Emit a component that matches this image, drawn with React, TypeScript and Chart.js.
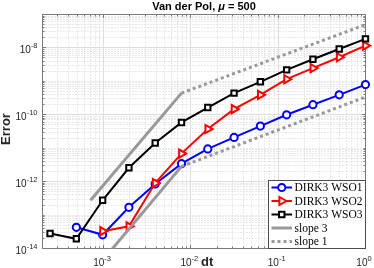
import React, { useEffect, useRef } from 'react';
import { Chart, registerables } from 'chart.js';

Chart.register(...registerables);

// ---- data ----
const DT = [
  0.000244140625, 0.00048828125, 0.0009765625, 0.001953125, 0.00390625, 0.0078125,
  0.015625, 0.03125, 0.0625, 0.125, 0.25, 0.5, 1,
];
const DT_WSO1 = DT.slice(1);
const DT_WSO2 = DT.slice(2);
const DT_WSO3 = DT;

const ERR_WSO1 = [4.3e-14, 2.57e-14, 1.71e-13, 8.5e-13, 3.44e-12, 9.5e-12, 2.1e-11, 4.6e-11, 1.0e-10, 2.0e-10, 3.95e-10, 8.0e-10];
const ERR_WSO2 = [3.3e-14, 4.6e-14, 9.1e-13, 6.9e-12, 3.74e-11, 1.48e-10, 3.95e-10, 1.16e-9, 2.48e-9, 5.27e-9, 1.17e-8];
const ERR_WSO3 = [2.8e-14, 1.95e-14, 2.77e-13, 2.6e-12, 1.43e-11, 5.9e-11, 1.65e-10, 4.45e-10, 9.7e-10, 2.2e-9, 4.6e-9, 9.3e-9, 1.86e-8];

const SLOPE3_UP_X = [7.1e-4, 7.8125e-3];
const SLOPE3_UP_Y = [2.77e-13, 4.45e-10];
const SLOPE3_LO_X = [1.2e-3, 7.8125e-3];
const SLOPE3_LO_Y = [8.4e-15, 2.86e-12];
const SLOPE1_UP_X = [7.8125e-3, 1];
const SLOPE1_UP_Y = [4.45e-10, 5.0e-8];
const SLOPE1_LO_X = [7.8125e-3, 1];
const SLOPE1_LO_Y = [2.86e-12, 3.4e-10];

const X_MIN = 2e-4;
const X_MAX = 1;
const Y_MIN = 1e-14;
const Y_MAX = 1e-7;

const X_TICKS = [1e-3, 1e-2, 1e-1, 1];
const X_TICK_EXP = ['-3', '-2', '-1', '0'];
const Y_TICKS = [1e-14, 1e-12, 1e-10, 1e-8];
const Y_TICK_EXP = ['-14', '-12', '-10', '-8'];

const TITLE_A = 'Van der Pol, ';
const TITLE_MU = 'μ';
const TITLE_B = ' = 500';
const X_LABEL = 'dt';
const Y_LABEL = 'Error';

const LEGEND_LABELS = ['DIRK3 WSO1', 'DIRK3 WSO2', 'DIRK3 WSO3', 'slope 3', 'slope 1'];

// ---- styles ----
const BLUE = '#0000ff';
const RED = '#ff0000';
const BLACK = '#000000';
const GRAY = '#999999';
const AXIS = '#7a7a7a';
const TEXT = '#262626';
const GRID_MAJOR = '#dedede';
const GRID_MINOR = '#d2d2d2';
const SANS = '"Liberation Sans", Arial, Helvetica, sans-serif';
const SERIF = '"Liberation Serif", "Times New Roman", serif';
const LW = 2;

const pts = (xs: number[], ys: number[]) => xs.map((x, i) => ({ x, y: ys[i] }));

function minorValues(min: number, max: number, skip: number[]) {
  const out: number[] = [];
  for (let e = Math.floor(Math.log10(min)); e <= Math.ceil(Math.log10(max)); e++) {
    for (let m = 1; m <= 9; m++) {
      const v = m * Math.pow(10, e);
      if (v <= min * 1.0001 || v >= max * 0.9999) continue;
      if (skip.some((s) => Math.abs(s - v) / v < 1e-6)) continue;
      out.push(v);
    }
  }
  return out;
}

function drawMarker(ctx: CanvasRenderingContext2D, kind: string, x: number, y: number, color: string) {
  ctx.save();
  ctx.setLineDash([]);
  ctx.lineWidth = LW;
  ctx.strokeStyle = color;
  ctx.fillStyle = '#ffffff';
  ctx.beginPath();
  if (kind === 'circle') {
    ctx.arc(x, y, 3.6, 0, Math.PI * 2);
  } else if (kind === 'triangle') {
    const r = 4.7;
    ctx.moveTo(x + r, y);
    ctx.lineTo(x - r / 2, y - (r * Math.sqrt(3)) / 2);
    ctx.lineTo(x - r / 2, y + (r * Math.sqrt(3)) / 2);
    ctx.closePath();
  } else if (kind === 'rect') {
    const s = 2.7;
    ctx.rect(x - s, y - s, 2 * s, 2 * s);
  }
  ctx.fill();
  ctx.stroke();
  ctx.restore();
}

const framePlugin = {
  id: 'matlabFrame',
  beforeDatasetsDraw(chart: any) {
    const { ctx, chartArea: a, scales } = chart;
    const xs = scales.x;
    const ys = scales.y;
    ctx.save();
    ctx.lineWidth = 1;
    // minor grid (dotted)
    ctx.strokeStyle = GRID_MINOR;
    ctx.setLineDash([1, 2]);
    for (const v of minorValues(X_MIN, X_MAX, X_TICKS)) {
      const px = Math.round(xs.getPixelForValue(v) - 0.5) + 0.5;
      ctx.beginPath();
      ctx.moveTo(px, a.top);
      ctx.lineTo(px, a.bottom);
      ctx.stroke();
    }
    for (const v of minorValues(Y_MIN, Y_MAX, Y_TICKS)) {
      const py = Math.round(ys.getPixelForValue(v) - 0.5) + 0.5;
      ctx.beginPath();
      ctx.moveTo(a.left, py);
      ctx.lineTo(a.right, py);
      ctx.stroke();
    }
    // major grid (solid)
    ctx.setLineDash([]);
    ctx.strokeStyle = GRID_MAJOR;
    for (const v of X_TICKS) {
      const px = Math.round(xs.getPixelForValue(v) - 0.5) + 0.5;
      ctx.beginPath();
      ctx.moveTo(px, a.top);
      ctx.lineTo(px, a.bottom);
      ctx.stroke();
    }
    for (const v of Y_TICKS) {
      const py = Math.round(ys.getPixelForValue(v) - 0.5) + 0.5;
      ctx.beginPath();
      ctx.moveTo(a.left, py);
      ctx.lineTo(a.right, py);
      ctx.stroke();
    }
    // box and ticks
    ctx.strokeStyle = AXIS;
    ctx.strokeRect(a.left, a.top, a.right - a.left, a.bottom - a.top);
    const tick = (len: number, v: number, axis: 'x' | 'y') => {
      if (axis === 'x') {
        const px = Math.round(xs.getPixelForValue(v) - 0.5) + 0.5;
        ctx.beginPath();
        ctx.moveTo(px, a.bottom);
        ctx.lineTo(px, a.bottom - len);
        ctx.moveTo(px, a.top);
        ctx.lineTo(px, a.top + len);
        ctx.stroke();
      } else {
        const py = Math.round(ys.getPixelForValue(v) - 0.5) + 0.5;
        ctx.beginPath();
        ctx.moveTo(a.left, py);
        ctx.lineTo(a.left + len, py);
        ctx.moveTo(a.right, py);
        ctx.lineTo(a.right - len, py);
        ctx.stroke();
      }
    };
    for (const v of minorValues(X_MIN, X_MAX, X_TICKS)) tick(2, v, 'x');
    for (const v of X_TICKS) tick(3.5, v, 'x');
    for (const v of minorValues(Y_MIN, Y_MAX, Y_TICKS)) tick(2, v, 'y');
    for (const v of Y_TICKS) tick(3.5, v, 'y');
    ctx.restore();
  },
  afterDraw(chart: any) {
    const { ctx, chartArea: a, scales } = chart;
    const xs = scales.x;
    const ys = scales.y;
    ctx.save();
    ctx.setLineDash([]);
    const BASE = '10px ' + SANS;
    const SUP = '7.5px ' + SANS;
    const pow = (exp: string, x: number, baseY: number, align: 'center' | 'right') => {
      ctx.font = BASE;
      const w1 = ctx.measureText('10').width;
      ctx.font = SUP;
      const w2 = ctx.measureText(exp).width;
      const total = w1 + w2;
      const sx = align === 'center' ? x - total / 2 : x - total;
      ctx.textAlign = 'left';
      ctx.textBaseline = 'alphabetic';
      ctx.fillStyle = TEXT;
      ctx.font = BASE;
      ctx.fillText('10', sx, baseY);
      ctx.font = SUP;
      ctx.fillText(exp, sx + w1, baseY - 5);
    };
    X_TICKS.forEach((v, i) => pow(X_TICK_EXP[i], xs.getPixelForValue(v) - 1.5, 265.5, 'center'));
    Y_TICKS.forEach((v, i) => pow(Y_TICK_EXP[i], 37.5, ys.getPixelForValue(v) + 5.5, 'right'));

    // axis labels
    ctx.fillStyle = TEXT;
    ctx.font = 'bold 13px ' + SANS;
    ctx.textAlign = 'left';
    ctx.textBaseline = 'alphabetic';
    ctx.fillText(X_LABEL, 201, 266);
    ctx.save();
    ctx.translate(10, 129);
    ctx.rotate(-Math.PI / 2);
    ctx.textAlign = 'center';
    ctx.fillText(Y_LABEL, 0, 0);
    ctx.restore();

    // title
    ctx.fillStyle = '#000000';
    const tf = 'bold 11px ' + SANS;
    const tfi = 'italic bold 11px ' + SANS;
    ctx.font = tf;
    const wa = ctx.measureText(TITLE_A).width;
    const wb = ctx.measureText(TITLE_B).width;
    ctx.font = tfi;
    const wm = ctx.measureText(TITLE_MU).width;
    const cx = (a.left + a.right) / 2;
    let tx = cx - (wa + wm + wb) / 2;
    ctx.textAlign = 'left';
    ctx.font = tf;
    ctx.fillText(TITLE_A, tx, 10);
    tx += wa;
    ctx.font = tfi;
    ctx.fillText(TITLE_MU, tx, 10);
    tx += wm;
    ctx.font = tf;
    ctx.fillText(TITLE_B, tx, 10);

    // legend
    const lx0 = 268.5;
    const ly0 = 180.5;
    const lx1 = a.right;
    const ly1 = a.bottom;
    ctx.fillStyle = '#ffffff';
    ctx.fillRect(lx0, ly0, lx1 - lx0, ly1 - ly0);
    ctx.strokeStyle = '#4d4d4d';
    ctx.lineWidth = 1;
    ctx.strokeRect(lx0, ly0, lx1 - lx0, ly1 - ly0);
    const entries = [
      { color: BLUE, marker: 'circle', width: LW, dash: [] as number[] },
      { color: RED, marker: 'triangle', width: LW, dash: [] as number[] },
      { color: BLACK, marker: 'rect', width: LW, dash: [] as number[] },
      { color: GRAY, marker: '', width: 3, dash: [] as number[] },
      { color: GRAY, marker: '', width: 3, dash: [3, 3] },
    ];
    entries.forEach((e, i) => {
      const yy = 187.5 + i * 13.5;
      ctx.save();
      ctx.strokeStyle = e.color;
      ctx.lineWidth = e.width;
      ctx.setLineDash(e.dash);
      ctx.beginPath();
      ctx.moveTo(271.5, yy);
      ctx.lineTo(292, yy);
      ctx.stroke();
      ctx.restore();
      if (e.marker) drawMarker(ctx, e.marker, 281.75, yy, e.color);
      ctx.fillStyle = '#000000';
      ctx.font = '11.5px ' + SERIF;
      ctx.textAlign = 'left';
      ctx.textBaseline = 'middle';
      ctx.fillText(LEGEND_LABELS[i], 294.5, yy + 0.5);
    });
    ctx.restore();
  },
};

export default function App() {
  const ref = useRef<HTMLCanvasElement | null>(null);
  useEffect(() => {
    if (!ref.current) return;
    const series = (xs: number[], ys: number[], color: string, style: string, radius: number, rot: number, order: number) => ({
      data: pts(xs, ys),
      borderColor: color,
      borderWidth: LW,
      pointStyle: style,
      pointRadius: radius,
      pointRotation: rot,
      pointBorderWidth: LW,
      pointBorderColor: color,
      pointBackgroundColor: '#ffffff',
      pointHoverRadius: radius,
      clip: false,
      order,
    });
    const slope = (xs: number[], ys: number[], dash: number[], order: number) => ({
      data: pts(xs, ys),
      borderColor: GRAY,
      borderWidth: 3,
      borderDash: dash,
      pointRadius: 0,
      pointHoverRadius: 0,
      clip: 0,
      order,
    });
    const chart = new Chart(ref.current, {
      type: 'line',
      data: {
        datasets: [
          series(DT_WSO1, ERR_WSO1, BLUE, 'circle', 3.6, 0, 7),
          series(DT_WSO2, ERR_WSO2, RED, 'triangle', 4.7, 90, 6),
          series(DT_WSO3, ERR_WSO3, BLACK, 'rect', 3.8, 0, 5),
          slope(SLOPE3_UP_X, SLOPE3_UP_Y, [], 4),
          slope(SLOPE3_LO_X, SLOPE3_LO_Y, [], 3),
          slope(SLOPE1_UP_X, SLOPE1_UP_Y, [3, 3], 2),
          slope(SLOPE1_LO_X, SLOPE1_LO_Y, [3, 3], 1),
        ] as any,
      },
      options: {
        animation: false,
        responsive: false,
        maintainAspectRatio: false,
        devicePixelRatio: 1,
        events: [],
        layout: { padding: { left: 42.5, top: 14.5, right: 8.5, bottom: 19.5 } },
        plugins: { legend: { display: false }, tooltip: { enabled: false }, title: { display: false } },
        scales: {
          x: { type: 'logarithmic', min: X_MIN, max: X_MAX, display: false },
          y: { type: 'logarithmic', min: Y_MIN, max: Y_MAX, display: false },
        },
      } as any,
      plugins: [framePlugin as any],
    });
    return () => chart.destroy();
  }, []);
  return (
    <div style={{ position: 'absolute', left: 0, top: 0, width: 374, height: 268, background: '#ffffff' }}>
      <canvas ref={ref} width={374} height={268} style={{ display: 'block', width: 374, height: 268 }} />
    </div>
  );
}
